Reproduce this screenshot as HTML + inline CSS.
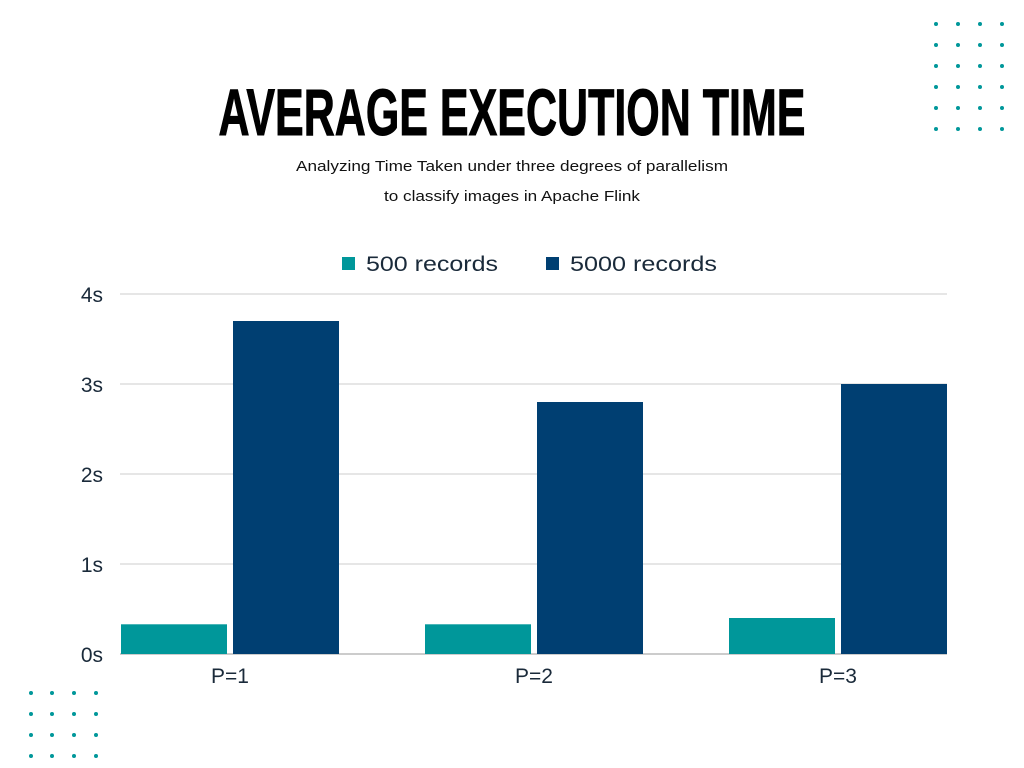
<!DOCTYPE html>
<html><head><meta charset="utf-8"><style>
html,body{margin:0;padding:0;background:#fff;}
svg{display:block;font-family:"Liberation Sans",sans-serif;}
</style></head><body>
<svg id="chart" width="1024" height="768" viewBox="0 0 1024 768">
<text x="512" y="135" text-anchor="middle" font-size="66" font-weight="bold" textLength="587" lengthAdjust="spacingAndGlyphs" fill="#000" stroke="#000" stroke-width="1">AVERAGE EXECUTION TIME</text>
<text x="512" y="171" text-anchor="middle" font-size="14.5" fill="#111" textLength="432" lengthAdjust="spacingAndGlyphs">Analyzing Time Taken under three degrees of parallelism</text>
<text x="512" y="201" text-anchor="middle" font-size="14.5" fill="#111" textLength="256" lengthAdjust="spacingAndGlyphs">to classify images in Apache Flink</text>
<g>
<rect x="342" y="257" width="13" height="13" fill="#00979a"/>
<text x="366" y="271" font-size="21" fill="#1a2a3a" textLength="132" lengthAdjust="spacingAndGlyphs">500 records</text>
<rect x="546" y="257" width="13" height="13" fill="#003f72"/>
<text x="570" y="271" font-size="21" fill="#1a2a3a" textLength="147" lengthAdjust="spacingAndGlyphs">5000 records</text>
</g>
<g id="grid"></g><g id="bars"></g><g id="labels"></g><g id="dots"></g>
</svg>
<script>
const categories=["P=1","P=2","P=3"];
const series500=[0.33,0.33,0.4];
const series5000=[3.7,2.8,3.0];
const yTicks=[0,1,2,3,4];
const yTickLabels=["0s","1s","2s","3s","4s"];
const NS="http://www.w3.org/2000/svg";
const x0=120,x1=947,y0=654,yTop=294,yMax=4;
const barW=106,gap=6,groupSpan=barW*2+gap+1;
const y=v=>y0-(v/yMax)*(y0-yTop);
const step=(x1-x0-groupSpan)/(categories.length-1);
function mk(tag,attrs,parent){const e=document.createElementNS(NS,tag);for(const k in attrs)e.setAttribute(k,attrs[k]);parent.appendChild(e);return e;}
const grid=document.getElementById('grid'),bars=document.getElementById('bars'),labels=document.getElementById('labels'),dots=document.getElementById('dots');
yTicks.forEach((t,i)=>{
 const l=mk('line',{x1:x0,x2:x1,y1:y(t),y2:y(t),stroke:t===0?'#999':'#ccc','stroke-width':1},grid);
 
 
 const tx=mk('text',{x:103,y:y(t)+8,'text-anchor':'end','font-size':21,fill:'#1a2a3a'},labels);
 tx.textContent=yTickLabels[i];
 
 
});
categories.forEach((c,i)=>{
 const gx=x0+i*step;
 const b1=mk('rect',{x:gx+1,y:y(series500[i]),width:barW,height:y0-y(series500[i]),fill:'#00979a'},bars);
 
 
 const b2=mk('rect',{x:gx+1+barW+gap,y:y(series5000[i]),width:barW,height:y0-y(series5000[i]),fill:'#003f72'},bars);
 
 
 const t=mk('text',{x:gx+110,y:683,'text-anchor':'middle','font-size':21,fill:'#1a2a3a'},labels);
 t.textContent=c;
 
 
});
function dotGrid(xs,ys,name){xs.forEach(xx=>ys.forEach(yy=>{const d=mk('circle',{cx:xx,cy:yy,r:2,fill:'#00979a'},dots);}));}
dotGrid([936,958,980,1002],[24,45,66,87,108,129],'decor-dot-top-right');
dotGrid([31,52,74,96],[693,714,735,756],'decor-dot-bottom-left');
</script>
</body></html>
